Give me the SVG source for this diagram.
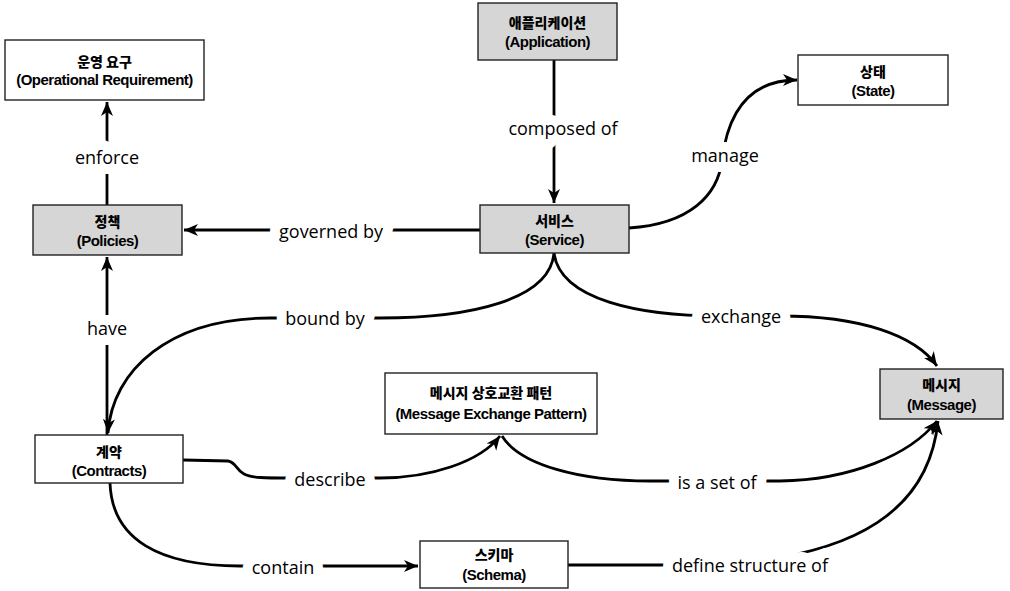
<svg xmlns="http://www.w3.org/2000/svg" width="1010" height="591" viewBox="0 0 1010 591">
  <defs>
    <marker id="arrow" markerUnits="userSpaceOnUse" markerWidth="16" markerHeight="14" refX="14" refY="6" orient="auto">
      <path d="M0,0 L14,6 L0,12 L4,6 Z" fill="#000"/>
    </marker>
    <style>
      .box { fill: #fff; stroke: #222; stroke-width: 1.4; }
      .box.shaded { fill: #d6d6d6; }
      .ko { font-family: "Noto Sans CJK KR", "Liberation Sans", sans-serif; font-weight: 900; font-size: 14px; text-anchor: middle; fill: #000; }
      .en { font-family: "Liberation Sans", "Noto Sans", sans-serif; font-weight: 700; font-size: 15px; text-anchor: middle; fill: #000; letter-spacing: -0.5px; }
      .edge { fill: none; stroke: #000; stroke-width: 2.8; marker-end: url(#arrow); }
      .lbl { font-family: "Open Sans", "Noto Sans", sans-serif; font-size: 18px; text-anchor: middle; dominant-baseline: central; fill: #000; stroke: #fff; stroke-width: 20px; stroke-linejoin: round; paint-order: stroke; }
    </style>
  </defs>

  <!-- connectors, each label masks its own gap in the line -->
  <g id="connectors">
    <path class="edge" d="M554,60 L554,203"/>
    <path class="edge" d="M107,205 L107,102"/>
    <path class="edge" d="M480,230 L184,230"/>
    <path class="edge" d="M629,228 C690,224 718,195 722,160 C728,112 750,80 797,80"/>
    <path class="edge" d="M554,253 C550,300 470,318 380,318 L270,318 C170,318 112,370 108,433"/>
    <path class="edge" d="M554,253 C560,300 640,316 720,316 L780,316 C860,316 915,335 937,366"/>
    <path class="edge" d="M107,435 L107,257"/>
    <path class="edge" d="M183,460 L228,461 C236,462 236,470 244,474 C252,478 265,478 290,478 L380,478 C430,478 480,462 500,436"/>
    <path class="edge" d="M502,436 C520,465 580,481 650,481 L780,481 C850,480 910,455 937,421"/>
    <path class="edge" d="M110,483 C112,540 160,566 240,566 L418,566"/>
    <path class="edge" d="M568,565 L680,565 C870,565 930,500 938,421"/>

    <text class="lbl" x="563" y="128">composed of</text>
    <text class="lbl" x="107" y="157">enforce</text>
    <text class="lbl" x="331" y="231">governed by</text>
    <text class="lbl" x="725" y="155">manage</text>
    <text class="lbl" x="325" y="318">bound by</text>
    <text class="lbl" x="741" y="316">exchange</text>
    <text class="lbl" x="107" y="328">have</text>
    <text class="lbl" x="330" y="479">describe</text>
    <text class="lbl" x="717" y="482">is a set of</text>
    <text class="lbl" x="283" y="567">contain</text>
    <text class="lbl" x="750" y="565">define structure of</text>
  </g>

  <!-- nodes -->
  <g id="operational-requirement">
    <rect class="box" x="5" y="40" width="199" height="60"/>
    <text class="ko" x="104.5" y="67">운영 요구</text>
    <text class="en" x="104.5" y="85">(Operational Requirement)</text>
  </g>
  <g id="application">
    <rect class="box shaded" x="478" y="3" width="139" height="57"/>
    <text class="ko" x="547.5" y="28">애플리케이션</text>
    <text class="en" x="547.5" y="47">(Application)</text>
  </g>
  <g id="state">
    <rect class="box" x="798" y="55" width="150" height="50"/>
    <text class="ko" x="873" y="77">상태</text>
    <text class="en" x="873" y="96">(State)</text>
  </g>
  <g id="policies">
    <rect class="box shaded" x="33" y="205" width="149" height="50"/>
    <text class="ko" x="107.5" y="227">정책</text>
    <text class="en" x="107.5" y="246">(Policies)</text>
  </g>
  <g id="service">
    <rect class="box shaded" x="480" y="205" width="149" height="48"/>
    <text class="ko" x="554.5" y="226">서비스</text>
    <text class="en" x="554.5" y="245">(Service)</text>
  </g>
  <g id="message-exchange-pattern">
    <rect class="box" x="385" y="373" width="212" height="61"/>
    <text class="ko" x="491" y="398">메시지 상호교환 패턴</text>
    <text class="en" x="491" y="419">(Message Exchange Pattern)</text>
  </g>
  <g id="message">
    <rect class="box shaded" x="880" y="369" width="123" height="50"/>
    <text class="ko" x="941.5" y="390">메시지</text>
    <text class="en" x="941.5" y="410">(Message)</text>
  </g>
  <g id="contracts">
    <rect class="box" x="35" y="435" width="148" height="48"/>
    <text class="ko" x="109" y="457">계약</text>
    <text class="en" x="109" y="476">(Contracts)</text>
  </g>
  <g id="schema">
    <rect class="box" x="420" y="541" width="148" height="47"/>
    <text class="ko" x="494" y="560">스키마</text>
    <text class="en" x="494" y="580">(Schema)</text>
  </g>
</svg>
